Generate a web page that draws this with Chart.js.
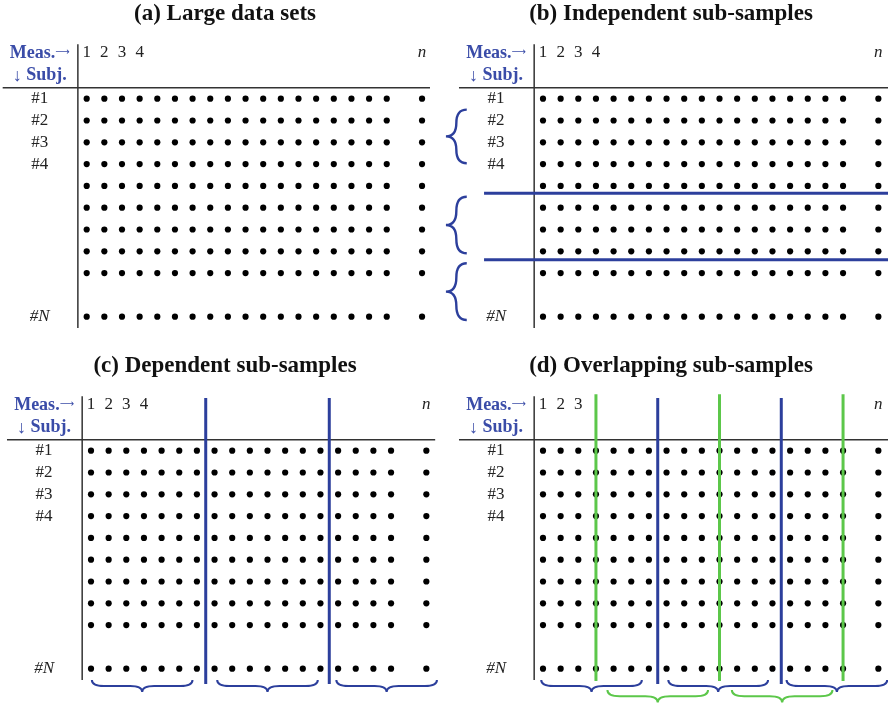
<!DOCTYPE html>
<html>
<head>
<meta charset="utf-8">
<script src="https://cdn.jsdelivr.net/npm/chart.js@4/dist/chart.umd.min.js"></script>
<style>
  body { margin: 0; width: 888px; height: 705px; overflow: hidden; background: #fff; position: relative; }
  canvas { position: absolute; }
</style>
</head>
<body>
<canvas id="panelA" width="450" height="353" style="left:0;top:0"></canvas>
<canvas id="panelB" width="454" height="353" style="left:444px;top:0"></canvas>
<canvas id="panelC" width="450" height="353" style="left:0;top:352px"></canvas>
<canvas id="panelD" width="454" height="353" style="left:444px;top:352px"></canvas>
<script>
'use strict';

// measurement columns 1..18, a gap, then the last one (n)
const MEAS_COLS = [1, 2, 3, 4, 5, 6, 7, 8, 9, 10, 11, 12, 13, 14, 15, 16, 17, 18, 20];
// subject rows 1..9, a gap, then the last one (#N)
const SUBJ_ROWS = [1, 2, 3, 4, 5, 6, 7, 8, 9, 11];

const MEAS_LABELS = ['1', '2', '3', '4'];
const MEAS_LABEL_COLS = [1, 2, 3, 4];
const LAST_MEAS_LABEL = 'n';
const LAST_MEAS_COL = 20;

const SUBJ_LABELS = ['#1', '#2', '#3', '#4'];
const SUBJ_LABEL_ROWS = [1, 2, 3, 4];
const LAST_SUBJ_LABEL = '#N';
const LAST_SUBJ_ROW = 11;

const TITLES = ['(a) Large data sets', '(b) Independent sub-samples',
                '(c) Dependent sub-samples', '(d) Overlapping sub-samples'];

// (b) subjects split into blocks
const INDEP_ROW_SPLITS = [5.34, 8.39];
const INDEP_BRACES = [[1.5, 3.96], [5.5, 8.09], [8.55, 11.15]];

// (c) measurements split into blocks
const DEP_COL_SPLITS = [7.5, 14.5];
const DEP_BRACES = [[1.05, 6.75], [8.15, 13.85], [14.9, 20.6]];

// (d) two interleaved sets of blocks
const OVL_COL_SPLITS = [7.5, 14.5];
const OVL_SHIFTED_SPLITS = [4, 11, 18];
const OVL_BRACES = [[0.9, 6.6], [8.1, 13.75], [14.8, 20.5]];
const OVL_SHIFTED_BRACES = [[4.65, 10.35], [11.7, 17.4]];

const BLUE = '#2c3f9c';
const GREEN = '#5cc74a';
const HEAD_BLUE = '#3a4ca8';
const SERIF = '"Liberation Serif", "DejaVu Serif", serif';

let gridPoints = [];
MEAS_COLS.forEach(c => {
    SUBJ_ROWS.forEach(r => gridPoints.push({x: c, y: r}));
});

function hLine(chart, y, x1, x2) {
    const ctx = chart.ctx, sx = chart.scales.x, sy = chart.scales.y;
    ctx.beginPath();
    ctx.moveTo(sx.getPixelForValue(x1), sy.getPixelForValue(y));
    ctx.lineTo(sx.getPixelForValue(x2), sy.getPixelForValue(y));
    ctx.stroke();
}

function vLine(chart, x, y1, y2) {
    const ctx = chart.ctx, sx = chart.scales.x, sy = chart.scales.y;
    ctx.beginPath();
    ctx.moveTo(sx.getPixelForValue(x), sy.getPixelForValue(y1));
    ctx.lineTo(sx.getPixelForValue(x), sy.getPixelForValue(y2));
    ctx.stroke();
}

// curly brace along local x from 0 to len, pointing towards +y
function brace(ctx, len, depth) {
    const r = Math.min(depth, len / 4), h = depth / 2, m = len / 2;
    ctx.beginPath();
    ctx.moveTo(0, 0);
    ctx.quadraticCurveTo(0, h, r, h);
    ctx.lineTo(m - r, h);
    ctx.quadraticCurveTo(m, h, m, depth);
    ctx.quadraticCurveTo(m, h, m + r, h);
    ctx.lineTo(len - r, h);
    ctx.quadraticCurveTo(len, h, len, 0);
    ctx.stroke();
}

function downBraces(chart, ranges, yTop, yTip, color) {
    const ctx = chart.ctx, sx = chart.scales.x, sy = chart.scales.y;
    ranges.forEach(rg => {
        const x1 = sx.getPixelForValue(rg[0]), x2 = sx.getPixelForValue(rg[1]);
        const y1 = sy.getPixelForValue(yTop), y2 = sy.getPixelForValue(yTip);
        ctx.save();
        ctx.strokeStyle = color;
        ctx.lineWidth = 2;
        ctx.translate(x1, y1);
        brace(ctx, x2 - x1, y2 - y1);
        ctx.restore();
    });
}

function leftBraces(chart, ranges, xEnd, xTip, color) {
    const ctx = chart.ctx, sx = chart.scales.x, sy = chart.scales.y;
    ranges.forEach(rg => {
        const y1 = sy.getPixelForValue(rg[0]), y2 = sy.getPixelForValue(rg[1]);
        const x1 = sx.getPixelForValue(xEnd), x2 = sx.getPixelForValue(xTip);
        ctx.save();
        ctx.strokeStyle = color;
        ctx.lineWidth = 2.4;
        ctx.translate(x1, y1);
        ctx.rotate(Math.PI / 2);
        brace(ctx, y2 - y1, x1 - x2);
        ctx.restore();
    });
}

function text(chart, str, x, y, font, color) {
    const ctx = chart.ctx;
    ctx.font = font;
    ctx.fillStyle = color;
    ctx.textAlign = 'center';
    ctx.textBaseline = 'middle';
    ctx.fillText(str, chart.scales.x.getPixelForValue(x), chart.scales.y.getPixelForValue(y));
}

// several runs of text in different fonts, centred together
function textRuns(chart, runs, x, y, color) {
    const ctx = chart.ctx;
    ctx.fillStyle = color;
    ctx.textAlign = 'left';
    ctx.textBaseline = 'middle';
    let total = 0;
    runs.forEach(r => { ctx.font = r[1]; total += ctx.measureText(r[0]).width; });
    let px = chart.scales.x.getPixelForValue(x) - total / 2;
    const py = chart.scales.y.getPixelForValue(y);
    runs.forEach(r => {
        ctx.font = r[1];
        ctx.fillText(r[0], px, py + (r[2] || 0));
        px += ctx.measureText(r[0]).width;
    });
}

function makeOverlay(cfg) {
    return {
        id: 'overlay',
        afterDatasetsDraw(chart) {
            const ctx = chart.ctx;
            const xMax = chart.scales.x.max;
            ctx.save();

            // table frame
            ctx.strokeStyle = '#333';
            ctx.lineWidth = 1.5;
            hLine(chart, 0.5, -3.76, cfg.headEnd === undefined ? xMax : cfg.headEnd);
            vLine(chart, 0.5, -1.5, 11.52);

            // header and labels
            const labelX = -1.66;
            const bold = 'bold 18px ' + SERIF;
            textRuns(chart, [['Meas.', bold], ['\u27F6', '10px "DejaVu Sans"', -1]], labelX, -1.08, HEAD_BLUE);
            textRuns(chart, [['\u2193', '18px ' + SERIF, 0], [' Subj.', bold]], labelX, -0.05, HEAD_BLUE);
            MEAS_LABELS.slice(0, cfg.measLabelCount).forEach((lab, i) => {
                text(chart, lab, MEAS_LABEL_COLS[i], -1.1, '17px ' + SERIF, '#222');
            });
            text(chart, LAST_MEAS_LABEL, LAST_MEAS_COL, -1.1, 'italic 17px ' + SERIF, '#222');
            SUBJ_LABELS.forEach((lab, i) => {
                text(chart, lab, labelX, SUBJ_LABEL_ROWS[i], '17px ' + SERIF, '#222');
            });
            text(chart, LAST_SUBJ_LABEL, labelX, LAST_SUBJ_ROW, 'italic 17px ' + SERIF, '#222');

            // splits
            ctx.lineWidth = 3;
            ctx.strokeStyle = BLUE;
            (cfg.rowSplits || []).forEach(y => hLine(chart, y, -2.34, xMax));
            (cfg.colSplits || []).forEach(x => vLine(chart, x, -1.42, 11.7));
            ctx.strokeStyle = GREEN;
            (cfg.greenSplits || []).forEach(x => vLine(chart, x, -1.59, 11.56));

            if (cfg.rowBraces) leftBraces(chart, cfg.rowBraces, -3.32, -4.5, BLUE);
            if (cfg.colBraces) downBraces(chart, cfg.colBraces, 11.52, 12.07, BLUE);
            if (cfg.greenBraces) downBraces(chart, cfg.greenBraces, 11.98, 12.55, GREEN);

            ctx.restore();
        }
    };
}

function makePanel(canvasId, title, xMin, xMax, cfg) {
    const ctx = document.getElementById(canvasId).getContext('2d');
    return new Chart(ctx, {
        type: 'scatter',
        data: {
            datasets: [{
                data: gridPoints,
                pointRadius: 3.1,
                pointBackgroundColor: '#000',
                pointBorderWidth: 0,
                clip: false
            }]
        },
        options: {
            responsive: false,
            animation: false,
            events: [],
            layout: { padding: 0, autoPadding: false },
            plugins: {
                legend: { display: false },
                tooltip: { enabled: false },
                title: {
                    display: true,
                    text: title,
                    color: '#111',
                    font: { family: SERIF, size: 23, weight: 'bold' },
                    padding: { top: 0, bottom: 4.4 }
                }
            },
            scales: {
                x: { type: 'linear', min: xMin, max: xMax, display: false },
                y: { type: 'linear', min: -2.06, max: 12.665, reverse: true, display: false }
            }
        },
        plugins: [makeOverlay(cfg)]
    });
}

makePanel('panelA', TITLES[0], -3.912, 21.584, { measLabelCount: 4, headEnd: 20.45 });
makePanel('panelB', TITLES[1], -4.609, 21.113, {
    measLabelCount: 4, rowSplits: INDEP_ROW_SPLITS, rowBraces: INDEP_BRACES
});
makePanel('panelC', TITLES[2], -4.156, 21.34, {
    measLabelCount: 4, headEnd: 20.5, colSplits: DEP_COL_SPLITS, colBraces: DEP_BRACES
});
makePanel('panelD', TITLES[3], -4.609, 21.113, {
    measLabelCount: 3, colSplits: OVL_COL_SPLITS, greenSplits: OVL_SHIFTED_SPLITS,
    colBraces: OVL_BRACES, greenBraces: OVL_SHIFTED_BRACES
});
</script>
</body>
</html>
